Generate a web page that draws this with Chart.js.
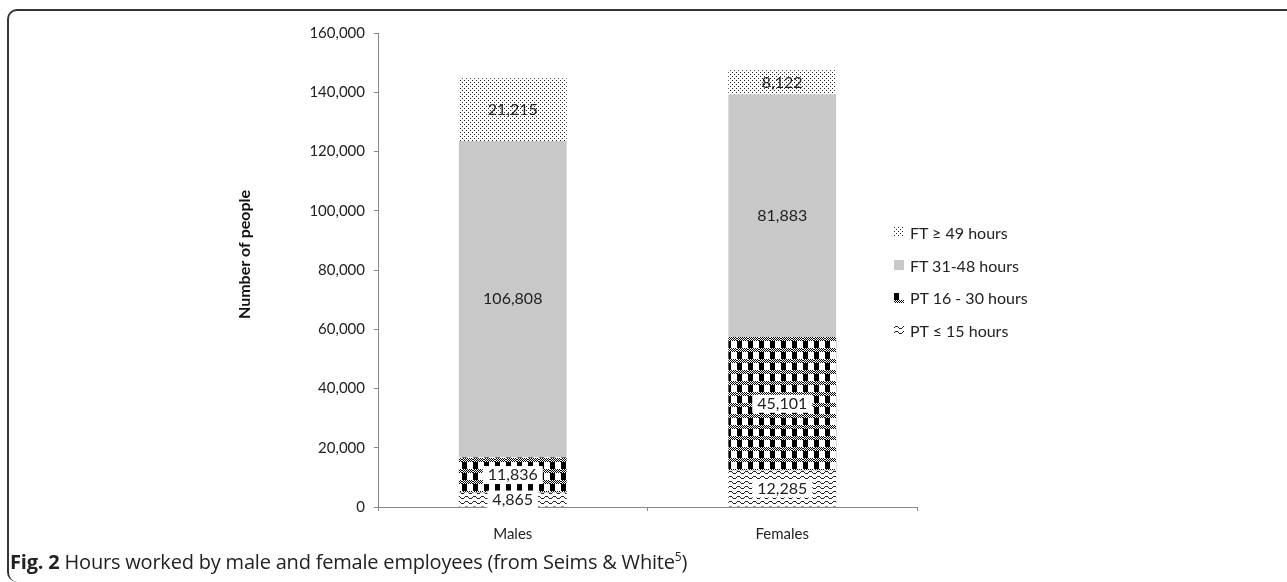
<!DOCTYPE html>
<html>
<head>
<meta charset="utf-8">
<script src="https://cdn.jsdelivr.net/npm/chart.js@4.4.1/dist/chart.umd.min.js"></script>
<style>
body { margin: 0; background: #fff; }
#wrap { position: relative; width: 1287px; height: 582px; overflow: hidden; }
#frame { position: absolute; left: 7px; top: 9px; width: 1300px; height: 571px; border-left: 2px solid #333; border-top: 2px solid #333; border-radius: 10px 0 0 10px; }
#box { position: absolute; left: 0; top: 0; width: 1287px; height: 560px; }
#legend { position: absolute; left: 894px; top: 216px; font: 16px Lato, sans-serif; color: #222; }
.item { height: 32.7px; display: flex; align-items: center; }
.item canvas { width: 10px; height: 10px; margin-right: 6px; }
#caption { position: absolute; left: 10px; top: 548px; font: 20px "Open Sans", sans-serif; color: #222; white-space: nowrap; letter-spacing: -0.2px; }
#caption b { font-weight: 700; }
#caption sup { font-size: 12px; }
</style>
</head>
<body>
<div id="wrap">
  <div id="frame"></div>
  <div id="box"><canvas id="hoursChart"></canvas></div>
  <div id="legend"></div>
  <div id="caption"><b>Fig. 2</b> Hours worked by male and female employees (from Seims &amp; White<sup>5</sup>)</div>
</div>
<script>
var groups = ["Males", "Females"];
var seriesNames = ["PT \u2264 15 hours", "PT 16 - 30 hours", "FT 31-48 hours", "FT \u2265 49 hours"];
var pt15 = [4865, 12285];
var pt16to30 = [11836, 45101];
var ft31to48 = [106808, 81883];
var ft49 = [21215, 8122];
var yTicks = [0, 20000, 40000, 60000, 80000, 100000, 120000, 140000, 160000];

function tile(w, h) {
     var c = document.createElement('canvas');
     c.width = w; c.height = h;
     var g = c.getContext('2d');
     g.fillStyle = '#fff';
     g.fillRect(0, 0, w, h);
     return c;
}

// little dots
function dotTile() {
     var c = tile(4, 4), g = c.getContext('2d');
     g.fillStyle = '#222';
     g.fillRect(0, 0, 1, 1);
     g.fillRect(2, 2, 1, 1);
     return c;
}

// black blocks with a dithered band
function checkTile() {
     var c = tile(11, 11), g = c.getContext('2d');
     g.fillStyle = '#000';
     g.fillRect(0, 0, 5, 7);
     for (var y = 7; y < 11; y++) {
          for (var x = 0; x < 11; x++) {
               if ((x + y) % 2 == 0) g.fillRect(x, y, 1, 1);
          }
     }
     return c;
}

// waves
function waveTile() {
     var c = tile(8, 5), g = c.getContext('2d');
     g.fillStyle = '#222';
     var ys = [2, 1, 1, 1, 2, 3, 3, 3];
     for (var x = 0; x < 8; x++) g.fillRect(x, ys[x], 1, 1);
     return c;
}

var tiles = [waveTile, checkTile, null, dotTile];
var ctx = document.getElementById('hoursChart').getContext('2d');
var fills = tiles.map(function(t) {
     return t ? ctx.createPattern(t(), 'repeat') : '#c8c8c8';
});
var seriesData = [pt15, pt16to30, ft31to48, ft49];

var valueLabels = {
     id: 'valueLabels',
     afterDatasetsDraw: function(chart) {
          var c = chart.ctx;
          c.save();
          c.font = '16px Lato';
          c.textAlign = 'center';
          c.textBaseline = 'middle';
          chart.data.datasets.forEach(function(ds, i) {
               chart.getDatasetMeta(i).data.forEach(function(bar, j) {
                    var txt = ds.data[j].toLocaleString('en-US');
                    var y = (bar.y + bar.base) / 2;
                    if (i < 2) {
                         var w = c.measureText(txt).width + 10;
                         c.fillStyle = '#fff';
                         c.fillRect(bar.x - w / 2, y - 9, w, 18);
                    }
                    c.fillStyle = '#222';
                    c.fillText(txt, bar.x, y);
               });
          });
          c.restore();
     }
};

var chart = new Chart(ctx, {
     type: 'bar',
     data: {
          labels: groups,
          datasets: seriesNames.map(function(name, i) {
               return {
                    label: name,
                    data: seriesData[i],
                    backgroundColor: fills[i],
                    borderWidth: 0,
                    barPercentage: 0.4,
                    categoryPercentage: 1
               };
          })
     },
     options: {
          responsive: true,
          maintainAspectRatio: false,
          animation: false,
          layout: { padding: { left: 232, right: 370, top: 33, bottom: 13 } },
          plugins: {
               legend: { display: false },
               tooltip: { enabled: false }
          },
          scales: {
               x: {
                    stacked: true,
                    grid: { display: true, drawOnChartArea: false, tickLength: 4, color: '#888' },
                    border: { color: '#888', width: 1 },
                    ticks: { font: { family: 'Lato', size: 15 }, color: '#222', padding: 14 },
                    afterFit: function(s) { s.height = 40; }
               },
               y: {
                    stacked: true,
                    min: yTicks[0],
                    max: yTicks[yTicks.length - 1],
                    afterBuildTicks: function(s) { s.ticks = yTicks.map(function(v) { return { value: v }; }); },
                    grid: { display: true, drawOnChartArea: false, tickLength: 4, color: '#888' },
                    border: { color: '#888', width: 1 },
                    ticks: {
                         font: { family: 'Lato', size: 15 },
                         color: '#222',
                         padding: 9,
                         callback: function(v) { return v.toLocaleString('en-US'); }
                    },
                    title: { display: true, text: '        Number of people', font: { family: 'Lato', size: 16, weight: 'bold' }, color: '#111', padding: { top: 3, bottom: 4 } },
                    afterFit: function(s) { s.width = 146; }
               }
          }
     },
     plugins: [valueLabels]
});

// legend, top item is the last series
var legend = document.getElementById('legend');
for (var i = seriesNames.length - 1; i >= 0; i--) {
     var row = document.createElement('div');
     row.className = 'item';
     var sw = document.createElement('canvas');
     sw.width = 10; sw.height = 10;
     var g = sw.getContext('2d');
     g.fillStyle = tiles[i] ? g.createPattern(tiles[i](), 'repeat') : fills[i];
     g.fillRect(0, 0, 10, 10);
     row.appendChild(sw);
     row.appendChild(document.createTextNode(seriesNames[i]));
     legend.appendChild(row);
}
</script>
</body>
</html>
